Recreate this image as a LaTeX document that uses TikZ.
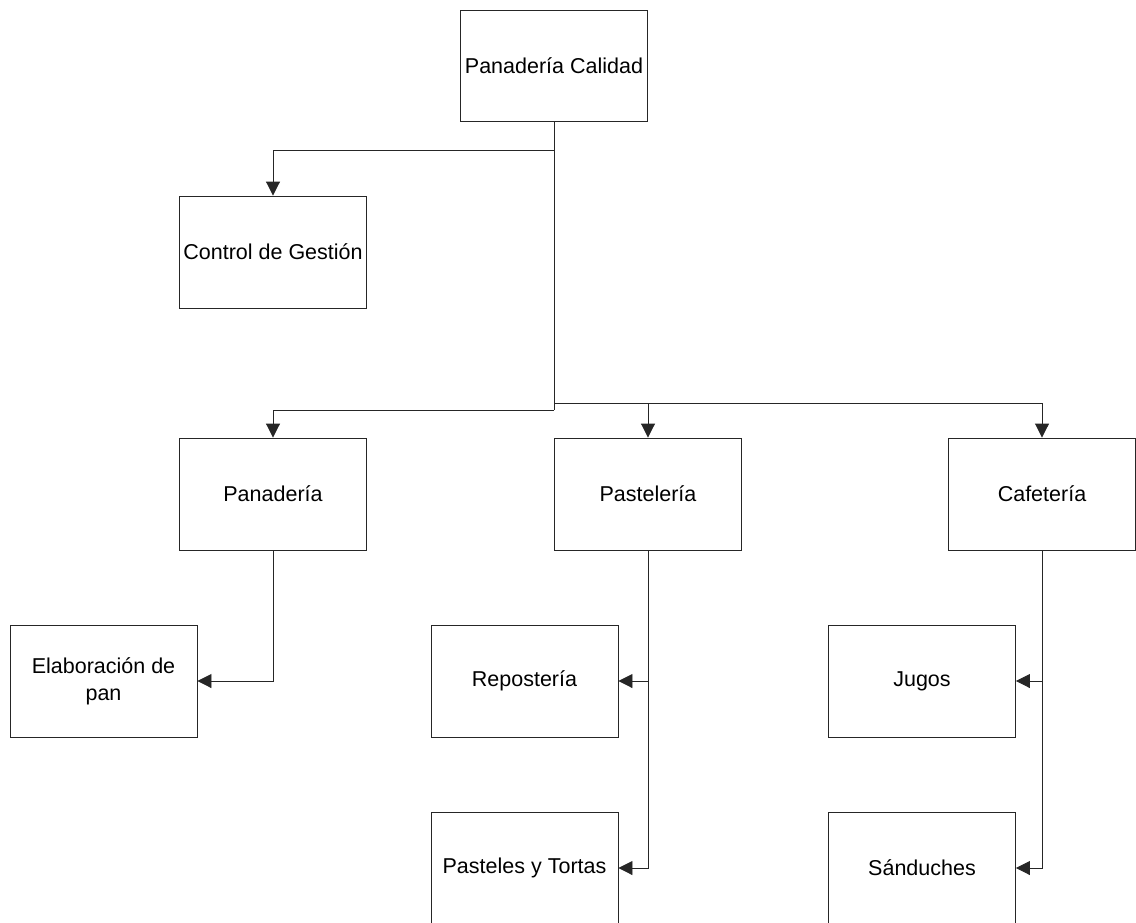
\documentclass[tikz,border=0pt]{standalone}
\usepackage{fontspec}
\setmainfont{Liberation Sans}
\usetikzlibrary{arrows.meta}
\begin{document}
\begin{tikzpicture}[x=1pt,y=-1pt,
  unit/.style={draw=black!85, line width=0.9pt, fill=white, minimum width=187pt,
    minimum height=112pt, inner sep=2pt, align=center,
    font=\fontsize{21.5}{27}\selectfont},
  link/.style={draw=black!85, line width=0.9pt},
  arr/.style={link, -{Triangle[length=14pt,width=14pt]}}]
\useasboundingbox (0,0) rectangle (1136,922);
\clip (0,0) rectangle (1136,922);

% boxes
\node[unit, minimum height=111pt] (top) at (554,65.5) {Panadería Calidad};
\node[unit] (ctrl) at (273,252) {Control de Gestión};
\node[unit] (pan)  at (273,494) {Panadería};
\node[unit] (pas)  at (648,494) {Pastelería};
\node[unit] (caf)  at (1042,494) {Cafetería};
\node[unit] (elab) at (103.5,681) {Elaboración de\\pan};
\node[unit] (repo) at (524.5,681) {Repostería};
\node[unit] (jug)  at (922,681) {Jugos};
\node[unit] (tort) at (524.5,868) {Pasteles y Tortas};
\node[unit] (sand) at (922,868) {Sánduches};

% junction points on the main stem
\coordinate (j1) at (554,150);
\coordinate (j2) at (554,403);
\coordinate (j3) at (554,410);

% connectors
\draw[link] (top.south) -- (j3);
\draw[arr] (j1) -| (ctrl.north);
\draw[arr] (j3) -| (pan.north);
\draw[arr] (j2) -| (pas.north);
\draw[arr] (j2) -| (caf.north);
\draw[arr] (pan.south) |- (elab.east);
\draw[arr] (pas.south) |- (repo.east);
\draw[arr] (pas.south) |- (tort.east);
\draw[arr] (caf.south) |- (jug.east);
\draw[arr] (caf.south) |- (sand.east);
\end{tikzpicture}
\end{document}
